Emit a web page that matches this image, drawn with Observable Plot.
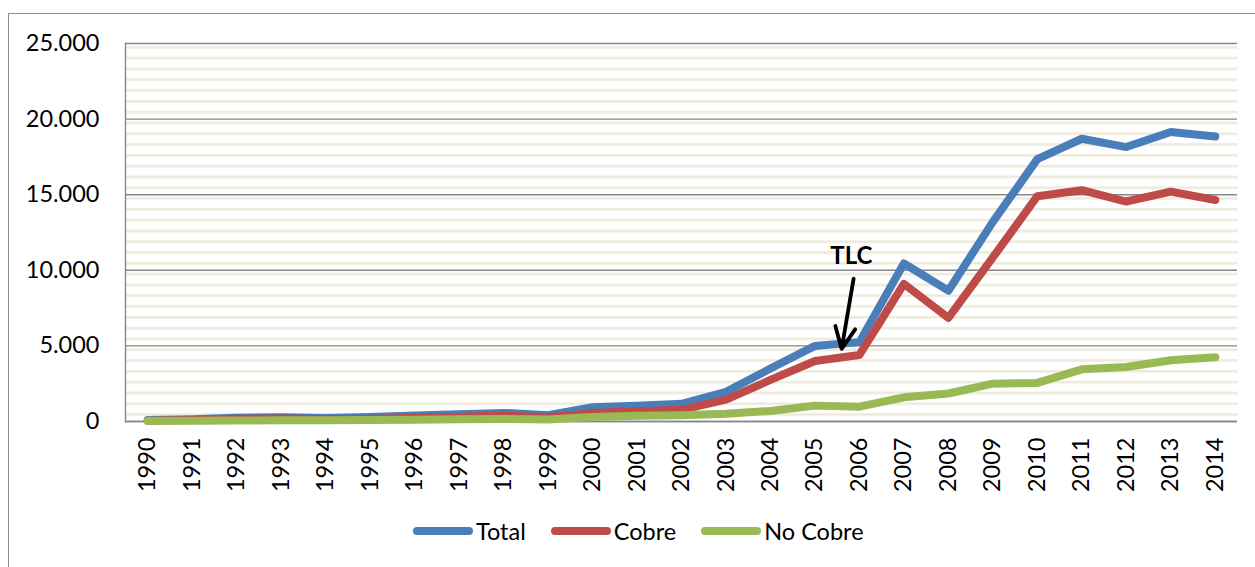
<!DOCTYPE html>
<html>
<head>
<meta charset="utf-8">
<script src="https://cdn.jsdelivr.net/npm/d3@7"></script>
<script src="https://cdn.jsdelivr.net/npm/@observablehq/plot@0.6"></script>
<style>
  html, body { margin: 0; padding: 0; background: #fff; overflow: hidden; }
  body { width: 1255px; height: 567px; position: relative; font-family: Lato, "Open Sans", sans-serif; }
  #border { position: absolute; left: 8px; top: 13px; width: 1400px; height: 700px;
    border-left: 1.5px solid #8c8c8c; border-top: 1.5px solid #8c8c8c; }
  #chart { position: absolute; left: 0; top: 0; }
  #legend { position: absolute; top: 517px; left: 413px; display: flex; align-items: center;
    font-size: 23.5px; color: #000; white-space: nowrap; }
  .item { display: flex; align-items: center; margin-right: 25px; }
  .sw { width: 60px; height: 8px; border-radius: 4px; margin-right: 3px; }
</style>
</head>
<body>
<div id="border"></div>
<div id="chart"></div>
<div id="legend"></div>
<script>
const years = [1990,1991,1992,1993,1994,1995,1996,1997,1998,1999,2000,2001,2002,2003,2004,2005,2006,2007,2008,2009,2010,2011,2012,2013,2014];
const total   = [100,150,250,280,230,300,400,480,570,420,950,1050,1170,1960,3500,5000,5250,10450,8650,13200,17350,18700,18150,19150,18850];
const cobre   = [50,100,180,200,150,170,250,320,400,280,570,680,770,1450,2750,4000,4400,9100,6850,10850,14900,15300,14550,15200,14650];
const noCobre = [50,50,70,80,80,100,120,150,170,140,300,380,420,510,700,1050,980,1600,1850,2500,2550,3450,3600,4050,4250];
const seriesNames = ["Total", "Cobre", "No Cobre"];
const seriesColors = ["#4a7ebb", "#be4b48", "#98b954"];
const yTicks = [0, 5000, 10000, 15000, 20000, 25000];
const annotationText = ["TLC"];
const arrowFrom = [{year: 2005.87, value: 9450}];
const arrowTo = [{year: 2005.60, value: 4800}];
const labelPos = [{year: 2005.82, value: 10900}];

const seriesValues = [total, cobre, noCobre];
const rows = seriesNames.flatMap((name, i) => years.map((y, j) => ({series: name, year: y, value: seriesValues[i][j]})));
const fmt = d => d3.format(",")(d).replace(/,/g, ".");

const chart = Plot.plot({
  width: 1255,
  height: 500,
  marginLeft: 125,
  marginRight: 18,
  marginTop: 43,
  marginBottom: 79,
  style: {fontFamily: "Lato, 'Open Sans', sans-serif", fontSize: "23.5px", color: "#000", background: "transparent"},
  x: {domain: [1989.5, 2014.5], ticks: years, tickFormat: d => String(d), tickRotate: -90, tickSize: 0, tickPadding: 16, label: null},
  y: {domain: [0, 25000], ticks: yTicks, tickFormat: fmt, tickSize: 0, tickPadding: 26, label: null},
  color: {domain: seriesNames, range: seriesColors},
  marks: [
    Plot.frame({fill: "url(#stripes)", stroke: null}),
    Plot.gridY(yTicks, {stroke: "#868686", strokeOpacity: 1, strokeWidth: 1.4}),
    Plot.frame({anchor: "left", stroke: "#868686", strokeWidth: 1.4}),
    Plot.ruleY([0], {stroke: "#868686", strokeWidth: 1.4}),
    Plot.axisX({ticks: years, tickFormat: d => String(d), tickRotate: -90, tickSize: 0, tickPadding: 16, fill: "#000"}),
    Plot.axisY({ticks: yTicks, tickFormat: fmt, tickSize: 0, tickPadding: 26, fill: "#000"}),
    Plot.line(rows, {x: "year", y: "value", z: "series", stroke: "series", strokeWidth: 8, strokeLinecap: "round", strokeLinejoin: "round"}),
    Plot.arrow(arrowFrom.map((d, i) => ({x1: d.year, y1: d.value, x2: arrowTo[i].year, y2: arrowTo[i].value})),
      {x1: "x1", y1: "y1", x2: "x2", y2: "y2", stroke: "#000", strokeWidth: 3.8, headLength: 22, headAngle: 50}),
    Plot.text(labelPos, {x: "year", y: "value", text: () => annotationText[0], fontWeight: "bold", fontSize: 24, fill: "#000"})
  ]
});

// striped background pattern
const svg = d3.select(chart);
const defs = svg.insert("defs", ":first-child");
const pat = defs.append("pattern").attr("id", "stripes").attr("patternUnits", "userSpaceOnUse")
  .attr("x", 0).attr("y", 45.5).attr("width", 20).attr("height", 10.8);
pat.append("rect").attr("x", 0).attr("y", 0).attr("width", 20).attr("height", 10.8).attr("fill", "#ffffff");
pat.append("rect").attr("x", 0).attr("y", 0).attr("width", 20).attr("height", 2.6).attr("fill", "#eeebdc");

document.getElementById("chart").appendChild(chart);

const legend = document.getElementById("legend");
seriesNames.forEach((n, i) => {
  const it = document.createElement("div");
  it.className = "item";
  const sw = document.createElement("div");
  sw.className = "sw";
  sw.style.background = seriesColors[i];
  const t = document.createElement("span");
  t.textContent = n;
  it.appendChild(sw); it.appendChild(t);
  legend.appendChild(it);
});
</script>
</body>
</html>
